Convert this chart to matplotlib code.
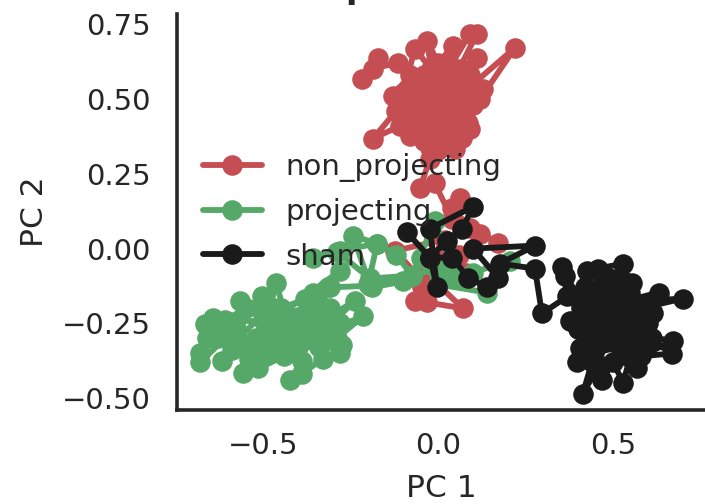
import matplotlib
matplotlib.use('Agg')
import matplotlib.pyplot as plt

# trajetorias (PC1, PC2)
red_x = [-0.217, -0.171, -0.186, -0.114, -0.07, -0.1, -0.066, -0.02, -0.031, 0.0, 0.043, 0.02, 0.091, 0.111, 0.06,
         0.111, 0.08, 0.22, 0.12, 0.129, 0.09, 0.05, -0.02, -0.08, -0.129, -0.09, -0.04, 0.01, 0.06, 0.1, 0.086, 0.03,
         -0.03, -0.08, -0.06, -0.12, -0.186, -0.11, -0.08, -0.03, 0.02, 0.069, 0.03, -0.02, 0.049, 0.0, -0.05, -0.023,
         0.04, 0.08, 0.02, -0.04, -0.09, -0.05, 0.0, 0.05, 0.09, 0.03, -0.02, 0.01, 0.06, -0.01, -0.04, 0.02, 0.07,
         0.0, -0.023, -0.051, -0.01, 0.04, 0.063, 0.04, 0.09, 0.171, 0.12, 0.06, 0.02, -0.123, -0.05, -0.066, -0.031,
         0.071, 0.0, -0.045, 0.03, 0.08, 0.02]
red_y = [0.569, 0.639, 0.602, 0.622, 0.55, 0.52, 0.669, 0.6, 0.696, 0.62, 0.679, 0.58, 0.719, 0.719, 0.6, 0.639, 0.53,
         0.672, 0.5, 0.535, 0.58, 0.54, 0.56, 0.58, 0.512, 0.47, 0.52, 0.5, 0.46, 0.48, 0.421, 0.44, 0.47, 0.45, 0.39,
         0.46, 0.368, 0.41, 0.378, 0.42, 0.4, 0.371, 0.45, 0.37, 0.334, 0.41, 0.5, 0.338, 0.38, 0.43, 0.52, 0.58, 0.53,
         0.44, 0.55, 0.5, 0.4, 0.36, 0.48, 0.6, 0.55, 0.42, 0.36, 0.49, 0.44, 0.33, 0.3, 0.204, 0.22, 0.1, 0.171, 0.137,
         0.07, 0.02, 0.05, -0.02, 0.03, -0.007, -0.1, -0.174, -0.18, -0.2, -0.12, -0.13, -0.06, -0.08, 0.0]
green_x = [-0.68, -0.66, -0.68, -0.6, -0.666, -0.58, -0.643, -0.55, -0.566, -0.47, -0.503, -0.43, -0.463, -0.5, -0.4,
           -0.357, -0.42, -0.35, -0.314, -0.44, -0.3, -0.237, -0.33, -0.214, -0.29, -0.274, -0.36, -0.28, -0.33,
           -0.389, -0.423, -0.389, -0.44, -0.514, -0.47, -0.557, -0.52, -0.617, -0.56, -0.49, -0.54, -0.47, -0.39,
           -0.45, -0.38, -0.31, -0.4, -0.34, -0.5, -0.41, -0.3, -0.36, -0.46, -0.52, -0.58, -0.5, -0.43, -0.37, -0.32,
           -0.42, -0.35, -0.28, -0.61, -0.55, -0.63, -0.59, -0.28, -0.31, -0.194, -0.243, -0.174, -0.28, -0.357, -0.29,
           -0.194, -0.074, -0.12, -0.174, -0.2, -0.074, -0.009, 0.05, -0.05, 0.0, 0.14, 0.206, 0.1, 0.02, -0.074, -0.19,
           -0.1]
green_y = [-0.348, -0.3, -0.381, -0.29, -0.251, -0.27, -0.231, -0.33, -0.174, -0.2, -0.157, -0.25, -0.114, -0.3, -0.23,
           -0.15, -0.3, -0.26, -0.13, -0.34, -0.22, -0.174, -0.28, -0.227, -0.3, -0.324, -0.3, -0.348, -0.37, -0.418,
           -0.441, -0.375, -0.36, -0.401, -0.34, -0.415, -0.3, -0.375, -0.33, -0.26, -0.37, -0.31, -0.24, -0.2, -0.17,
           -0.2, -0.33, -0.33, -0.24, -0.27, -0.27, -0.2, -0.28, -0.35, -0.31, -0.22, -0.35, -0.3, -0.24, -0.23, -0.28,
           -0.25, -0.24, -0.2, -0.3, -0.34, -0.074, -0.13, -0.124, 0.043, 0.017, -0.007, -0.03, -0.01, -0.1, -0.09,
           -0.02, 0.017, -0.12, -0.09, 0.094, -0.09, -0.03, -0.12, -0.147, -0.04, -0.08, -0.06, -0.09, -0.13, -0.11]
black_x = [-0.089, -0.023, -0.003, -0.023, 0.1, 0.069, 0.026, -0.023, 0.04, 0.086, 0.14, 0.171, 0.1, 0.277, 0.177,
           0.277, 0.297, 0.37, 0.354, 0.363, 0.42, 0.426, 0.5, 0.457, 0.529, 0.45, 0.554, 0.5, 0.43, 0.39, 0.47, 0.56,
           0.631, 0.52, 0.7, 0.58, 0.614, 0.5, 0.44, 0.377, 0.45, 0.53, 0.48, 0.41, 0.46, 0.56, 0.5, 0.42, 0.406, 0.5,
           0.58, 0.52, 0.44, 0.397, 0.46, 0.414, 0.44, 0.469, 0.5, 0.529, 0.55, 0.569, 0.611, 0.671, 0.58, 0.669, 0.6,
           0.54, 0.48, 0.43, 0.51, 0.46, 0.55, 0.4, 0.5, 0.57, 0.47, 0.54, 0.42, 0.49, 0.56, 0.45, 0.52, 0.6, 0.53,
           0.44, 0.49]
black_y = [0.054, -0.03, -0.13, 0.067, 0.14, 0.067, 0.027, -0.03, -0.03, -0.097, -0.13, -0.097, 0.0, 0.01, -0.05,
           -0.067, -0.217, -0.16, -0.06, -0.09, -0.19, -0.074, -0.13, -0.067, -0.05, -0.2, -0.114, -0.24, -0.24, -0.16,
           -0.12, -0.22, -0.147, -0.18, -0.167, -0.2, -0.214, -0.27, -0.16, -0.241, -0.28, -0.14, -0.22, -0.2, -0.32,
           -0.27, -0.17, -0.28, -0.331, -0.29, -0.26, -0.33, -0.35, -0.381, -0.39, -0.485, -0.38, -0.441, -0.38, -0.448,
           -0.36, -0.398, -0.298, -0.308, -0.36, -0.351, -0.3, -0.36, -0.31, -0.3, -0.25, -0.18, -0.15, -0.27, -0.31,
           -0.27, -0.23, -0.19, -0.13, -0.1, -0.3, -0.34, -0.25, -0.25, -0.11, -0.29, -0.16]

labels = ['non_projecting', 'projecting', 'sham']
cores = ['#c44e52', '#55a868', '#1a1a1a']
texto = '#262626'

fig = plt.figure(figsize=(7.05, 5.04), dpi=100)
ax = fig.add_axes([177 / 705, 1 - 410 / 504, (705 - 177) / 705, (410 - 14) / 504])

for xs, ys, label, cor in zip([red_x, green_x, black_x], [red_y, green_y, black_y], labels, cores):
    ax.plot(xs, ys, '-o', color=cor, lw=4.2, ms=13.8, label=label, clip_on=False, solid_capstyle='round')

ax.set_xlim(-0.746, 0.763)
ax.set_ylim(-0.54, 0.785)
ax.set_xticks([-0.5, 0.0, 0.5])
ax.set_yticks([-0.5, -0.25, 0.0, 0.25, 0.5, 0.75])
ax.set_yticklabels(['\u22120.50', '\u22120.25', '0.00', '0.25', '0.50', '0.75'])
ax.set_xticklabels(['\u22120.5', '0.0', '0.5'])
ax.tick_params(axis='y', length=0, labelsize=21, labelcolor=texto, pad=19)
ax.tick_params(axis='x', length=0, labelsize=21, labelcolor=texto, pad=16)
ax.set_xlabel('PC 1', fontsize=22.5, color=texto, labelpad=10)
ax.set_ylabel('PC 2', fontsize=22.5, color=texto, labelpad=9)

for lado in ['top', 'right']:
    ax.spines[lado].set_visible(False)
for lado in ['left', 'bottom']:
    ax.spines[lado].set_color(texto)
    ax.spines[lado].set_linewidth(2.6)

leg = ax.legend(loc='center left', bbox_to_anchor=(0.0, 0.5), frameon=False, fontsize=21, labelspacing=0.55,
                labelcolor=texto)
leg.set_zorder(5)

# titulo cortado na borda de cima, so sobra a perna do p
fig.text(345 / 705, 1 + 2 / 504, 'p', fontsize=24, fontweight='bold', color=texto, ha='left', va='baseline')

fig.savefig('out.png', dpi=100)
